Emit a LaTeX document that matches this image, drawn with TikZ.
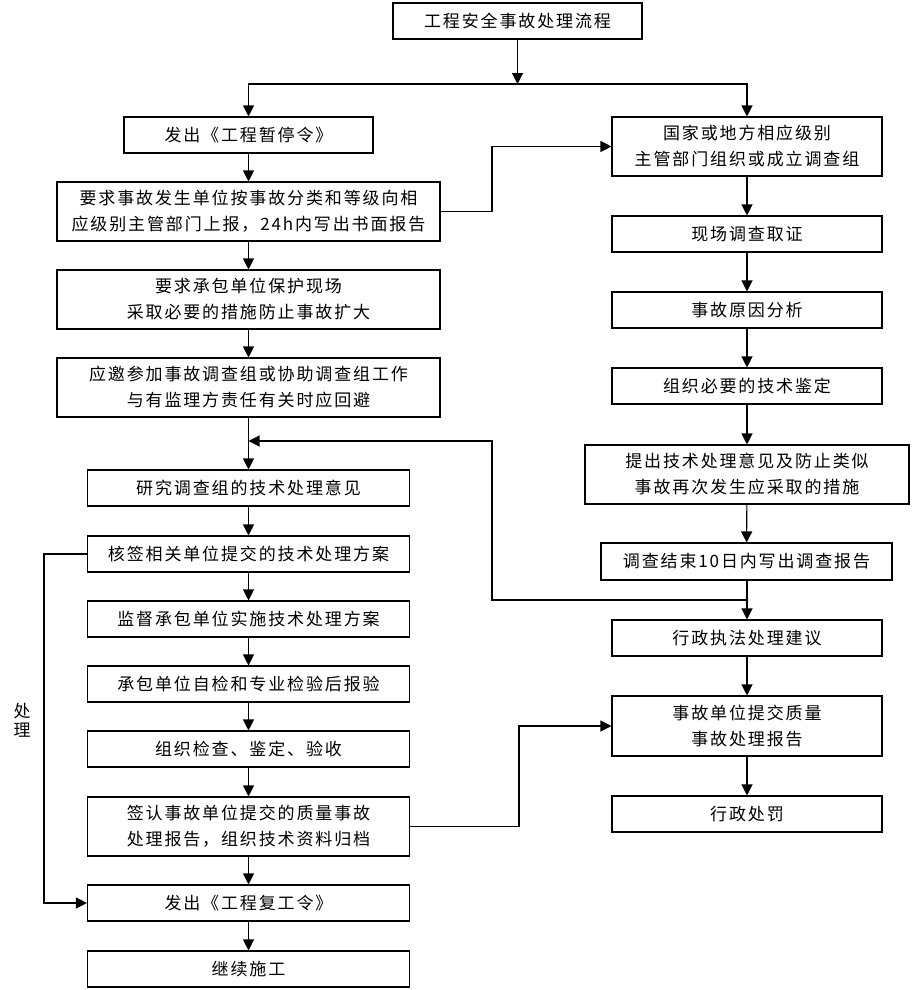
\documentclass[tikz,border=0pt]{standalone}
\usepackage{fontspec}
\newfontfamily\cjk[LetterSpace=11]{Noto Sans CJK SC}
\usetikzlibrary{arrows.meta}
\begin{document}
\begin{tikzpicture}[x=1pt,y=-1pt,
  box/.style={draw,line width=1.1pt,inner sep=0pt,align=center,
    font=\cjk\fontsize{17}{26}\selectfont},
  arr/.style={line width=1.1pt,-{Triangle[length=11pt,width=11pt]}},
  ln/.style={line width=1.1pt}]
\useasboundingbox (0,0) rectangle (912,990);
% top
\node[box,minimum width=249pt,minimum height=36pt] (T) at (517.5,21) {工程安全事故处理流程};
% left column
\node[box,minimum width=249pt,minimum height=36pt] (L1) at (248.5,135) {发出《工程暂停令》};
\node[box,minimum width=383pt,minimum height=59pt] (L2) at (248.5,211.5) {要求事故发生单位按事故分类和等级向相\\应级别主管部门上报，24h内写出书面报告};
\node[box,minimum width=383pt,minimum height=59pt] (L3) at (248.5,299.5) {要求承包单位保护现场\\采取必要的措施防止事故扩大};
\node[box,minimum width=383pt,minimum height=59pt] (L4) at (248.5,387.5) {应邀参加事故调查组或协助调查组工作\\与有监理方责任有关时应回避};
\node[box,minimum width=322pt,minimum height=36pt] (L5) at (248.5,488) {研究调查组的技术处理意见};
\node[box,minimum width=322pt,minimum height=36pt] (L6) at (248.5,554) {核签相关单位提交的技术处理方案};
\node[box,minimum width=322pt,minimum height=36pt] (L7) at (248.5,619) {监督承包单位实施技术处理方案};
\node[box,minimum width=322pt,minimum height=36pt] (L8) at (248.5,684) {承包单位自检和专业检验后报验};
\node[box,minimum width=322pt,minimum height=36pt] (L9) at (248.5,749) {组织检查、鉴定、验收};
\node[box,minimum width=322pt,minimum height=59pt] (L10) at (248.5,826.5) {签认事故单位提交的质量事故\\处理报告，组织技术资料归档};
\node[box,minimum width=322pt,minimum height=36pt] (L11) at (248.5,903) {发出《工程复工令》};
\node[box,minimum width=322pt,minimum height=36pt] (L12) at (248.5,969) {继续施工};
% right column
\node[box,minimum width=270pt,minimum height=59pt] (R1) at (747,146.5) {国家或地方相应级别\\主管部门组织或成立调查组};
\node[box,minimum width=270pt,minimum height=36pt] (R2) at (747,234) {现场调查取证};
\node[box,minimum width=270pt,minimum height=36pt] (R3) at (747,310) {事故原因分析};
\node[box,minimum width=270pt,minimum height=36pt] (R4) at (747,386) {组织必要的技术鉴定};
\node[box,minimum width=324pt,minimum height=59pt] (R5) at (747,474.5) {提出技术处理意见及防止类似\\事故再次发生应采取的措施};
\node[box,minimum width=291pt,minimum height=37pt] (R6) at (746.5,561.5) {调查结束10日内写出调查报告};
\node[box,minimum width=270pt,minimum height=36pt] (R7) at (747,638) {行政执法处理建议};
\node[box,minimum width=270pt,minimum height=60pt] (R8) at (747,726) {事故单位提交质量\\事故处理报告};
\node[box,minimum width=270pt,minimum height=36pt] (R9) at (747,814) {行政处罚};
% label
\node[font=\cjk\fontsize{17}{19}\selectfont,align=center,inner sep=0pt] (lab) at (22,720) {处\\理};
% coordinates
\coordinate (sp) at (517.5,84);
\coordinate (k1) at (492,211.5);
\coordinate (j) at (747,600);
\coordinate (c1) at (492,600);
\coordinate (c2) at (492,441);
\coordinate (m) at (248.5,441);
\coordinate (k2) at (519,826.5);
\coordinate (k3) at (44,554);
% connectors
\draw[arr] (T) -- (sp);
\draw[arr] (sp) -| (L1.north);
\draw[arr] (sp) -| (R1.north);
\draw[arr] (L1) -- (L2);
\draw[arr] (L2) -- (L3);
\draw[arr] (L3) -- (L4);
\draw[arr] (L4) -- (L5);
\draw[arr] (L5) -- (L6);
\draw[arr] (L6) -- (L7);
\draw[arr] (L7) -- (L8);
\draw[arr] (L8) -- (L9);
\draw[arr] (L9) -- (L10);
\draw[arr] (L10) -- (L11);
\draw[arr] (L11) -- (L12);
\draw[arr] (R1) -- (R2);
\draw[arr] (R2) -- (R3);
\draw[arr] (R3) -- (R4);
\draw[arr] (R4) -- (R5);
\draw[arr] (R5) -- (R6);
\draw[arr] (R6.south -| R7.north) -- (R7.north);
\draw[arr] (R7) -- (R8);
\draw[arr] (R8) -- (R9);
\draw[arr] (L2.east) -- (k1) |- (R1.west);
\draw[arr] (j) -- (c1) -- (c2) -- (m);
\draw[arr] (L10.east) -- (k2) |- (R8.west);
\draw[arr] (L6.west) -- (k3) |- (L11.west);
\end{tikzpicture}
\end{document}
